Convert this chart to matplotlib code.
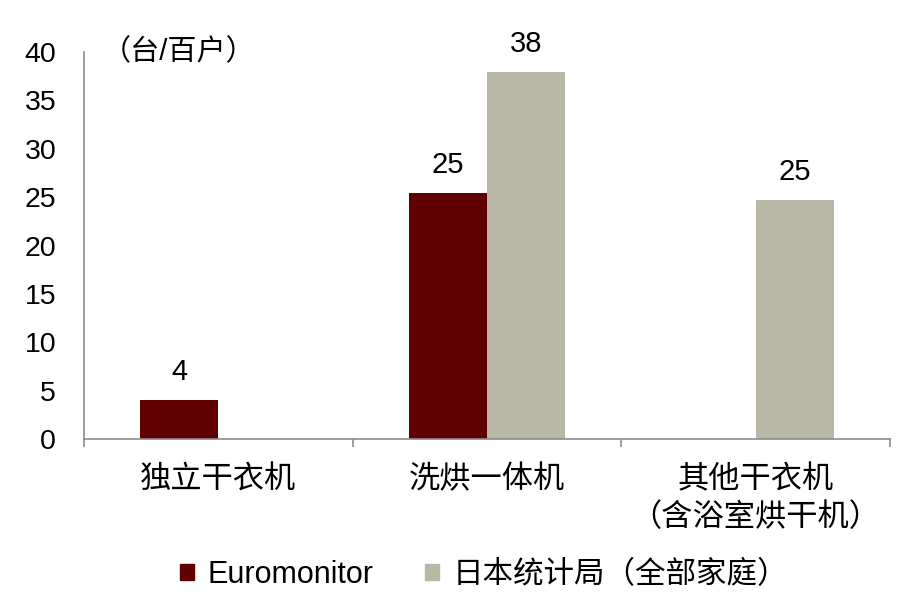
import matplotlib
matplotlib.use("Agg")
import matplotlib.pyplot as plt
from matplotlib.patches import Patch
import numpy as np

plt.rcParams['font.family'] = ['Liberation Sans', 'Noto Sans CJK SC', 'DejaVu Sans']

categories = ['独立干衣机', '洗烘一体机', '其他干衣机\n（含浴室烘干机）']
euromonitor = [4.0, 25.4, None]
japan_stat = [None, 37.9, 24.7]
series_names = ['Euromonitor', '日本统计局（全部家庭）']
unit_label = '（台/百户）'
yticks = [0, 5, 10, 15, 20, 25, 30, 35, 40]

c_red = '#600000'
c_gray = '#b9b8a7'

fig = plt.figure(figsize=(9.22, 5.98), dpi=100)
ax = fig.add_axes([84/922, 1-439/598, (890-84)/922, (439-52)/598])

x = np.arange(len(categories))
w = 0.29
for i, v in enumerate(euromonitor):
    if v is not None:
        ax.bar(x[i] - w/2, v, width=w, color=c_red)
        ax.annotate(f'{round(v)}', (x[i] - w/2, v), xytext=(0, 10), textcoords='offset points',
                    ha='center', va='bottom', fontsize=21)
for i, v in enumerate(japan_stat):
    if v is not None:
        ax.bar(x[i] + w/2, v, width=w, color=c_gray)
        ax.annotate(f'{round(v)}', (x[i] + w/2, v), xytext=(0, 10), textcoords='offset points',
                    ha='center', va='bottom', fontsize=21)

ax.set_xlim(-0.5, 2.5)
ax.set_ylim(0, 40)
ax.set_yticks(yticks)
ax.set_yticklabels([str(t) for t in yticks], fontsize=20.5)
ax.tick_params(axis='y', length=0, pad=20)

ax.set_xticks([-0.5, 0.5, 1.5, 2.5])
ax.set_xticklabels([])
ax.tick_params(axis='x', length=6, width=1.2, color='#8c8c8c', direction='out')
for i, c in enumerate(categories):
    ax.text(x[i], -0.068, c, transform=ax.get_xaxis_transform(), ha='center', va='top',
            fontsize=22.5, linespacing=1.32)

for s in ['top', 'right']:
    ax.spines[s].set_visible(False)
for s in ['left', 'bottom']:
    ax.spines[s].set_color('#8c8c8c')
    ax.spines[s].set_linewidth(1.2)

ax.text(0.022, 1.0, unit_label, transform=ax.transAxes, ha='left', va='center', fontsize=21)

handles = [Patch(color=c_red), Patch(color=c_gray)]
fig.legend(handles, series_names, loc='center', bbox_to_anchor=(484/922, 1-575/598), ncol=2,
           frameon=False, fontsize=22, handlelength=0.45, handleheight=0.45,
           handletextpad=0.45, columnspacing=1.7)

fig.savefig('out.png', dpi=100)
